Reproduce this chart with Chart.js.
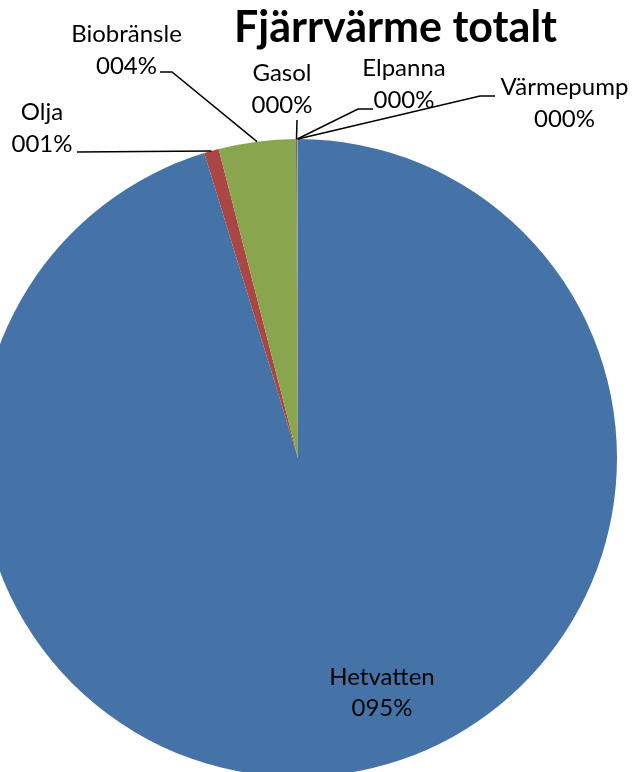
<!DOCTYPE html>
<html>
<head>
<meta charset="utf-8">
<script src="https://cdn.jsdelivr.net/npm/chart.js@4"></script>
<style>
  body { margin: 0; background: #fff; overflow: hidden; }
  #wrap { position: relative; width: 636px; height: 772px; overflow: hidden; }
  #myChart { position: absolute; left: -21px; top: 0; }
</style>
</head>
<body>
<div id="wrap">
  <canvas id="myChart" width="680" height="800"></canvas>
</div>
<script>
const kategorier = ["Hetvatten", "Olja", "Biobränsle", "Gasol", "Elpanna", "Värmepump"];
const andelar = [95.25, 0.75, 3.9, 0.05, 0.03, 0.02];
const titel = "Fjärrvärme totalt";

const farger = ["#4572A7", "#AA4643", "#89A54E", "#71588F", "#4198AF", "#DB843D"];

// etikettplacering i fönsterkoordinater (baslinjer), plus ledarlinjer
const forskjutning = 21;
const etiketter = [
  { x: 382, y1: 685, y2: 716 },
  { x: 42, y1: 119.5, y2: 151.5, knee: [77, 152], end: 77 },
  { x: 126.5, y1: 41.5, y2: 74, knee: [172, 72], end: 160 },
  { x: 282, y1: 81, y2: 112.5, knee: [297, 120], end: 297 },
  { x: 404, y1: 76, y2: 108, knee: [358, 109], end: 373 },
  { x: 564.5, y1: 95, y2: 127, knee: [480, 96], end: 495 }
];

function formatProcent(v) {
  return String(Math.round(v)).padStart(3, "0") + "%";
}

const etikettPlugin = {
  id: "etiketter",
  afterDatasetsDraw(chart) {
    const ctx = chart.ctx;
    const meta = chart.getDatasetMeta(0);
    const total = andelar.reduce((a, b) => a + b, 0);

    ctx.save();
    ctx.strokeStyle = "#000";
    ctx.lineWidth = 1.5;
    meta.data.forEach((arc, i) => {
      const e = etiketter[i];
      if (!e.knee) return;
      const mid = (arc.startAngle + arc.endAngle) / 2;
      const ax = arc.x + Math.cos(mid) * arc.outerRadius;
      const ay = arc.y + Math.sin(mid) * arc.outerRadius;
      ctx.beginPath();
      ctx.moveTo(ax, ay);
      ctx.lineTo(e.knee[0] + forskjutning, e.knee[1]);
      ctx.lineTo(e.end + forskjutning, e.knee[1]);
      ctx.stroke();
    });

    ctx.fillStyle = "#000";
    ctx.textAlign = "center";
    ctx.textBaseline = "alphabetic";
    ctx.font = "24px Lato";
    kategorier.forEach((namn, i) => {
      const e = etiketter[i];
      ctx.fillText(namn, e.x + forskjutning, e.y1);
      ctx.fillText(formatProcent(andelar[i] / total * 100), e.x + forskjutning, e.y2);
    });

    ctx.font = "bold 43px Lato";
    ctx.fillText(titel, 395.5 + forskjutning, 42);
    ctx.restore();
  }
};

new Chart(document.getElementById("myChart"), {
  type: "pie",
  data: {
    labels: kategorier,
    datasets: [{
      data: andelar,
      backgroundColor: farger,
      borderWidth: 0,
      hoverOffset: 0,
      offset: 0
    }]
  },
  options: {
    responsive: false,
    animation: false,
    events: [],
    layout: { padding: { left: 0, top: 139, right: 42, bottom: 23 } },
    plugins: {
      legend: { display: false },
      tooltip: { enabled: false },
      title: { display: false }
    }
  },
  plugins: [etikettPlugin]
});
</script>
</body>
</html>
